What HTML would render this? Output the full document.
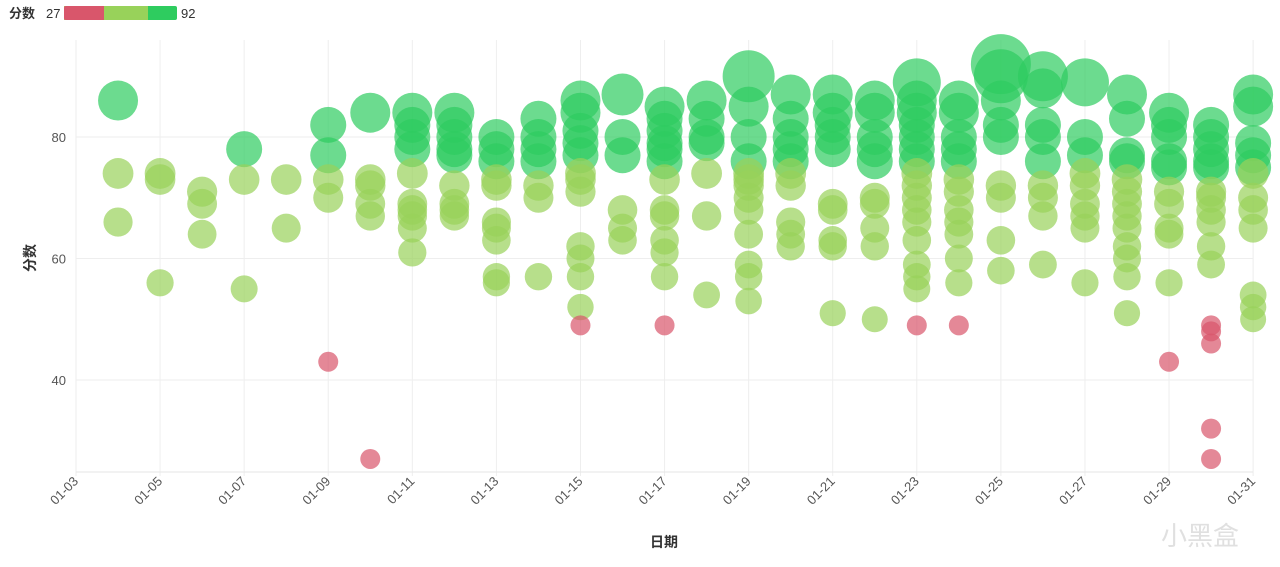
<!DOCTYPE html>
<html><head><meta charset="utf-8"><style>
body{margin:0;background:#fff;width:1280px;height:567px;overflow:hidden;font-family:"Liberation Sans","Noto Sans CJK SC",sans-serif}
</style></head><body>
<svg id="s" width="1280" height="567" xmlns="http://www.w3.org/2000/svg" style="position:absolute;left:0;top:0">
<text x="9" y="18" font-size="13" font-weight="bold" fill="#333" font-family="Liberation Sans,Noto Sans CJK SC,sans-serif">分数</text>
<text x="46" y="18" font-size="13" fill="#333">27</text>
<rect x="64" y="6" width="113" height="14" rx="2" fill="#2ecc5f"/>
<rect x="64" y="6" width="84" height="14" fill="#98d25a"/>
<rect x="64" y="6" width="40" height="14" rx="2" fill="#d9566b"/>
<rect x="100" y="6" width="4" height="14" fill="#d9566b"/>
<text x="181" y="18" font-size="13" fill="#333">92</text>
<g id="grid"></g><g id="pts"></g>
<text transform="translate(35,258) rotate(-90)" text-anchor="middle" font-size="14" font-weight="bold" fill="#333" font-family="Liberation Sans,Noto Sans CJK SC,sans-serif">分数</text>
<text x="664" y="547" text-anchor="middle" font-size="14" font-weight="bold" fill="#333" font-family="Liberation Sans,Noto Sans CJK SC,sans-serif">日期</text>
<text x="1200" y="545" text-anchor="middle" font-size="26" fill="#e0e0e0" font-family="Liberation Sans,Noto Sans CJK SC,sans-serif">小黑盒</text>
</svg>
<script>
var NS="http://www.w3.org/2000/svg";
function el(p,t,a,txt){var e=document.createElementNS(NS,t);for(var k in a)e.setAttribute(k,a[k]);if(txt)e.textContent=txt;p.appendChild(e);return e;}
var X=function(d){return 76+(d-3)*42.04;},Y=function(v){return 137+(80-v)*6.075;};
var g=document.getElementById('grid');
[80,60,40].forEach(function(v){el(g,'line',{x1:76,x2:1253,y1:Y(v),y2:Y(v),stroke:'#eee'});
el(g,'text',{x:66,y:Y(v)+5,'text-anchor':'end','font-size':13,fill:'#555'},v);});
for(var d=3;d<=31;d+=2){var x=X(d);el(g,'line',{x1:x,x2:x,y1:40,y2:476,stroke:'#eee'});
var dd=(d<10?'0':'')+d;el(g,'text',{transform:'translate('+(x+3)+',482) rotate(-45)','text-anchor':'end','font-size':13,fill:'#555'},'01-'+dd);}
el(g,'line',{x1:76,x2:1253,y1:472,y2:472,stroke:'#e6e6e6'});
var D={4:[86,74,66],5:[74,73,56],6:[71,69,64],7:[78,73,55],8:[73,65],9:[82,77,73,70,43],10:[84,73,72,69,67,27],
11:[84,82,80,78,74,69,68,67,65,61],12:[84,82,80,78,77,72,69,68,67],13:[80,78,76,73,72,66,65,63,57,56],
14:[83,80,78,76,72,70,57],15:[86,84,81,79,77,74,73,71,62,60,57,52,49],16:[87,80,77,68,65,63],
17:[85,83,81,79,78,76,73,68,67,63,61,57,49],18:[86,83,80,79,74,67,54],19:[90,85,80,76,74,73,72,70,68,64,59,57,53],
20:[87,83,80,78,76,74,72,66,64,62],21:[87,84,82,80,78,69,68,63,62,51],22:[86,84,80,78,76,70,69,65,62,50],
23:[89,86,84,82,80,78,76,74,72,70,68,66,63,59,57,55,49],24:[86,84,80,78,76,73,71,68,66,64,60,56,49],
25:[92,90,86,82,80,72,70,63,58],26:[90,88,82,80,76,72,70,67,59],27:[89,80,77,74,72,69,67,65,56],
28:[87,83,77,76,73,71,69,67,65,62,60,57,51],29:[84,82,80,76,75,71,69,65,64,56,43],
30:[82,80,78,76,75,71,70,68,66,62,59,49,48,46,32,27],31:[87,85,79,77,75,74,70,68,65,54,52,50]};
var big={'19_90':26,'25_92':30,'25_90':27,'26_90':25,'27_89':24,'23_89':24,'16_87':21,'4_86':20};
var p=document.getElementById('pts');
for(var k in D){D[k].forEach(function(v){var r=big[k+'_'+v]||(v>=75?(v>=84?20:18):(v>=50?13+(v-50)*0.1:10));
var c=v>=75?'#2ecc5f':(v>=50?'#98d25a':'#d9566b');
el(p,'circle',{cx:X(+k),cy:Y(v),r:r,fill:c,'fill-opacity':v>=75?0.7:0.7});});}
</script>
</body></html>
